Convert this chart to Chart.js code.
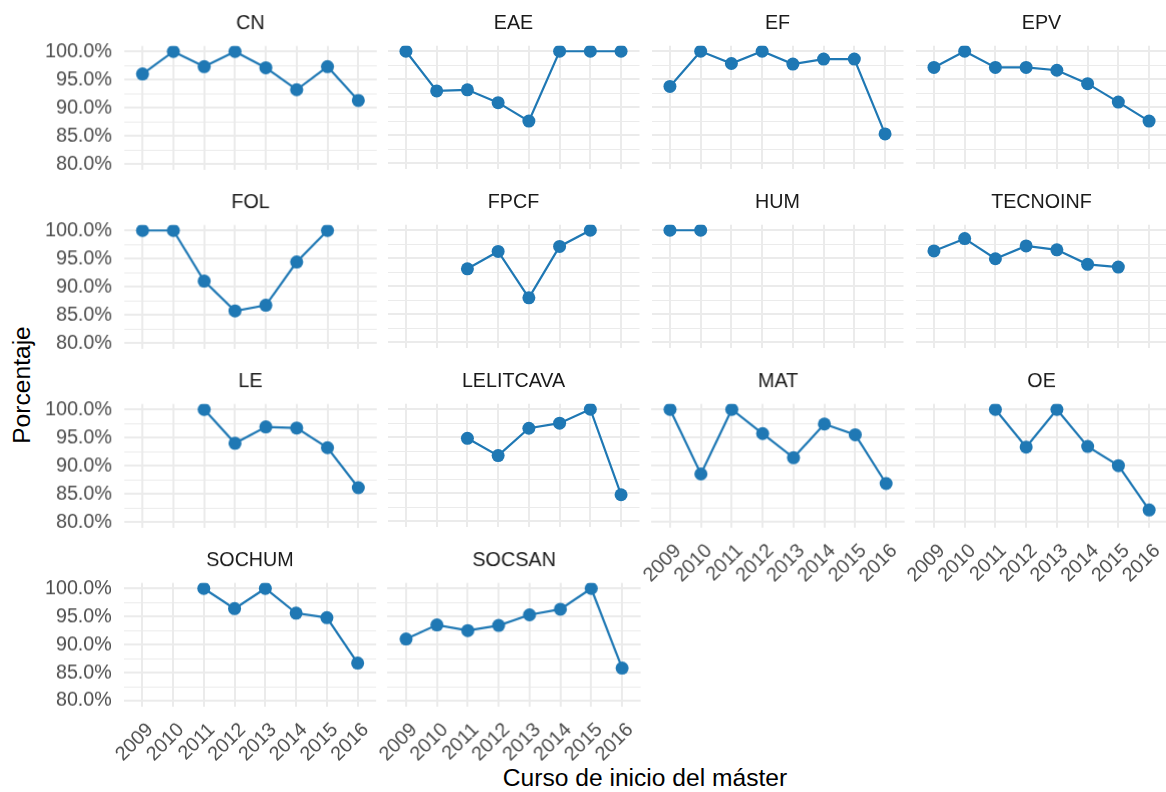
<!DOCTYPE html>
<html>
<head>
<meta charset="utf-8">
<script src="https://cdn.jsdelivr.net/npm/chart.js@4/dist/chart.umd.min.js"></script>
<style>
    body { margin: 0; background: #fff; width: 1166px; height: 792px; position: relative; overflow: hidden; font-family: "Liberation Sans", Arial, sans-serif; }
    canvas { position: absolute; }
    .axisTitle { position: absolute; font-size: 24.6px; color: #000; white-space: nowrap; transform: translate(-50%, -50%); }
    #yTitle { left: 22px; top: 385px; transform: translate(-50%, -50%) rotate(-90deg); }
    #xTitle { left: 645px; top: 778px; }
</style>
</head>
<body>
<div class="axisTitle" id="yTitle">Porcentaje</div>
<div class="axisTitle" id="xTitle">Curso de inicio del máster</div>
<script>
// years on the x axis and y tick positions (major every 5, minor in between)
const years = [2009, 2010, 2011, 2012, 2013, 2014, 2015, 2016];
const yTicks = [80, 82.5, 85, 87.5, 90, 92.5, 95, 97.5, 100];

// percentage per master speciality, null = no data that year
const CN        = [96.0, 100, 97.3, 100, 97.1, 93.2, 97.3, 91.3];
const EAE       = [100, 92.9, 93.1, 90.8, 87.5, 100, 100, 100];
const EF        = [93.7, 100, 97.8, 100, 97.7, 98.6, 98.6, 85.2];
const EPV       = [97.1, 100, 97.1, 97.1, 96.6, 94.2, 90.9, 87.5];
const FOL       = [100, 100, 91.0, 85.7, 86.7, 94.4, 100, null];
const FPCF      = [null, null, 93.1, 96.2, 87.9, 97.1, 100, null];
const HUM       = [100, 100, null, null, null, null, null, null];
const TECNOINF  = [96.3, 98.5, 94.9, 97.2, 96.5, 93.9, 93.4, null];
const LE        = [null, null, 100, 94.0, 96.9, 96.7, 93.2, 86.1];
const LELITCAVA = [null, null, 94.8, 91.7, 96.6, 97.5, 100, 84.7];
const MAT       = [100, 88.5, 100, 95.7, 91.4, 97.4, 95.5, 86.8];
const OE        = [null, null, 100, 93.3, 100, 93.4, 90.0, 82.1];
const SOCHUM    = [null, null, 100, 96.4, 100, 95.6, 94.8, 86.7];
const SOCSAN    = [91.0, 93.5, 92.5, 93.4, 95.3, 96.3, 100, 85.8];

const facets = [
    ['CN', CN], ['EAE', EAE], ['EF', EF], ['EPV', EPV],
    ['FOL', FOL], ['FPCF', FPCF], ['HUM', HUM], ['TECNOINF', TECNOINF],
    ['LE', LE], ['LELITCAVA', LELITCAVA], ['MAT', MAT], ['OE', OE],
    ['SOCHUM', SOCHUM], ['SOCSAN', SOCSAN]
];

const blue = '#1f78b4';
const gridColor = '#ebebeb';
const fontFamily = '"Liberation Sans", Arial, sans-serif';

// panel (plot area) geometry
const plotW = 252, plotH = 123;
const colX = c => 124 + c * 263.7;
const rowY = r => 46 + r * 179;

facets.forEach(([name, vals], i) => {
    const r = Math.floor(i / 4), c = i % 4;
    const showY = c === 0;
    const showX = r === 3 || (r === 2 && c >= 2);

    const cv = document.createElement('canvas');
    cv.width = 400;
    cv.height = 260;
    document.body.appendChild(cv);

    const pts = years.map((x, k) => ({ x: x, y: vals[k] })).filter(p => p.y !== null);

    const chart = new Chart(cv, {
        type: 'line',
        data: {
            datasets: [{
                data: pts,
                borderColor: blue,
                backgroundColor: blue,
                borderWidth: 2.2,
                pointRadius: 6.5,
                pointBorderWidth: 0,
                pointHoverRadius: 6.5
            }]
        },
        options: {
            responsive: false,
            maintainAspectRatio: false,
            animation: false,
            events: [],
            layout: { padding: 0 },
            plugins: {
                legend: { display: false },
                tooltip: { enabled: false },
                title: {
                    display: true,
                    fullSize: false,
                    text: name,
                    color: '#1a1a1a',
                    font: { family: fontFamily, size: 19.7, weight: 'normal' },
                    padding: { top: 4, bottom: 10 }
                }
            },
            scales: {
                x: {
                    type: 'linear',
                    min: 2008.4,
                    max: 2016.6,
                    afterBuildTicks: s => { s.ticks = years.map(v => ({ value: v })); },
                    grid: { color: gridColor, lineWidth: 2, drawTicks: false },
                    border: { display: false },
                    ticks: {
                        display: showX,
                        autoSkip: false,
                        minRotation: 45,
                        maxRotation: 45,
                        padding: 12,
                        labelOffset: 8,
                        color: '#4d4d4d',
                        font: { family: fontFamily, size: 19.7 },
                        callback: v => String(v)
                    }
                },
                y: {
                    min: 79,
                    max: 101,
                    afterBuildTicks: s => { s.ticks = yTicks.map(v => ({ value: v })); },
                    grid: {
                        color: gridColor,
                        lineWidth: ctx => (ctx.tick && ctx.tick.value % 5 === 0) ? 2 : 1,
                        drawTicks: false
                    },
                    border: { display: false },
                    ticks: {
                        display: showY,
                        autoSkip: false,
                        padding: 12,
                        color: '#4d4d4d',
                        font: { family: fontFamily, size: 19.7 },
                        callback: v => v % 5 === 0 ? v.toFixed(1) + '%' : ''
                    }
                }
            }
        }
    });

    // size the canvas until the plot area has the panel size, then place it
    for (let k = 0; k < 4; k++) {
        const a = chart.chartArea;
        const dw = plotW - (a.right - a.left), dh = plotH - (a.bottom - a.top);
        if (Math.abs(dw) < 0.5 && Math.abs(dh) < 0.5) break;
        chart.resize(chart.width + dw, chart.height + dh);
    }
    const a = chart.chartArea;
    cv.style.left = (colX(c) - a.left) + 'px';
    cv.style.top = (rowY(r) - a.top) + 'px';
});
</script>
</body>
</html>
